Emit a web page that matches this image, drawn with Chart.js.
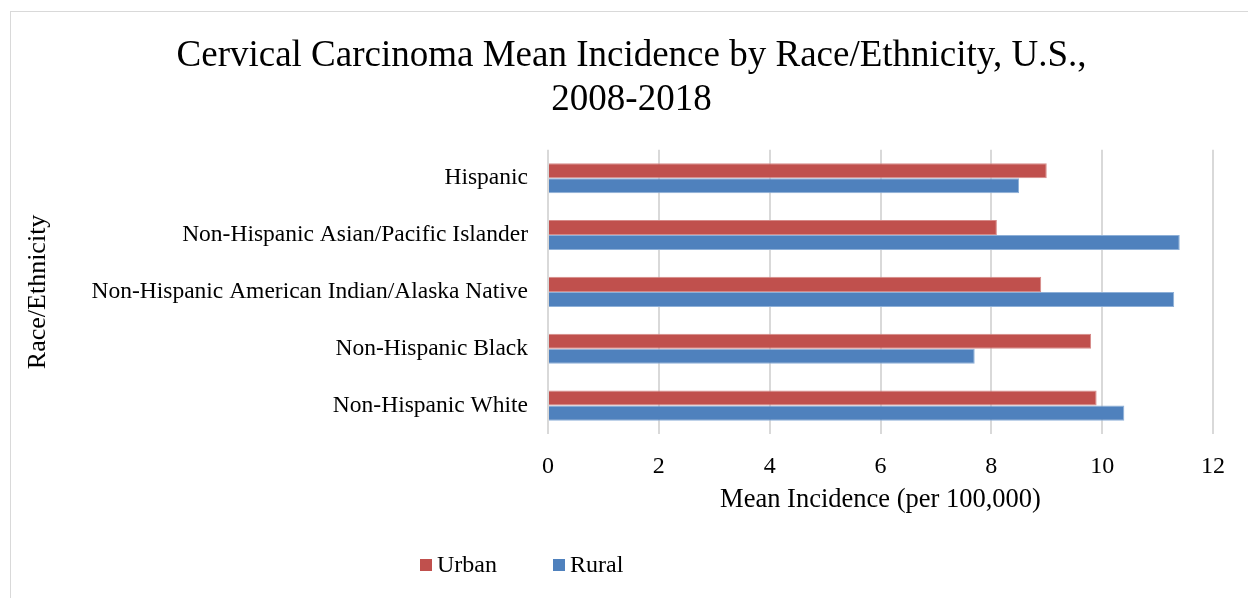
<!DOCTYPE html>
<html>
<head>
<meta charset="utf-8">
<script src="https://cdn.jsdelivr.net/npm/chart.js@4"></script>
<style>
  body { margin: 0; background: #fff; }
</style>
</head>
<body>
<canvas id="incidenceChart" width="1248" height="598"></canvas>
<script>
const groups = [
  'Hispanic',
  'Non-Hispanic Asian/Pacific Islander',
  'Non-Hispanic American Indian/Alaska Native',
  'Non-Hispanic Black',
  'Non-Hispanic White'
];
const urban = [9.0, 8.1, 8.9, 9.8, 9.9];
const rural = [8.5, 11.4, 11.3, 7.7, 10.4];
const xTicks = [0, 2, 4, 6, 8, 10, 12];

const serif = "'Liberation Serif', 'Times New Roman', serif";

// outer frame + hand drawn legend (sits left of centre like the office export)
const framePlugin = {
  id: 'frame',
  afterLayout(chart) {
    // title is centred on the whole frame, not the padded box
    chart.titleBlock.left += 18;
    chart.titleBlock.right += 18;
  },
  beforeDraw(chart) {
    const ctx = chart.ctx;
    ctx.save();
    ctx.strokeStyle = '#d9d9d9';
    ctx.lineWidth = 1;
    ctx.strokeRect(10.5, 11.5, 1400, 700);
    ctx.restore();
  },
  afterDraw(chart) {
    const ctx = chart.ctx;
    const spots = [420, 553];
    ctx.save();
    ctx.font = '24px ' + serif;
    ctx.textBaseline = 'alphabetic';
    chart.data.datasets.forEach((ds, i) => {
      ctx.fillStyle = ds.backgroundColor;
      ctx.fillRect(spots[i], 559, 12, 12);
      ctx.fillStyle = '#000';
      ctx.fillText(ds.label, spots[i] + 17, 572);
    });
    ctx.restore();
  }
};

const ctx = document.getElementById('incidenceChart').getContext('2d');
const chart = new Chart(ctx, {
  type: 'bar',
  data: {
    labels: groups,
    datasets: [{
      label: 'Urban',
      data: urban,
      backgroundColor: '#c0504d',
      borderColor: '#d68a88',
      borderWidth: 1
    }, {
      label: 'Rural',
      data: rural,
      backgroundColor: '#4f81bd',
      borderColor: '#8eb0d8',
      borderWidth: 1
    }]
  },
  options: {
    indexAxis: 'y',
    responsive: false,
    animation: false,
    categoryPercentage: 0.53,
    barPercentage: 1,
    layout: {
      padding: { left: 14, right: 35, top: 12, bottom: 82 }
    },
    plugins: {
      legend: { display: false },
      tooltip: { enabled: false },
      title: {
        display: true,
        text: ['Cervical Carcinoma Mean Incidence by Race/Ethnicity, U.S.,', '2008-2018'],
        color: '#000',
        font: { family: serif, size: 37, weight: 'normal', lineHeight: 1.2 },
        padding: { top: 22, bottom: 27 }
      }
    },
    scales: {
      x: {
        min: 0,
        max: 12,
        afterBuildTicks(scale) {
          scale.ticks = xTicks.map(v => ({ value: v }));
        },
        afterFit(scale) {
          scale.height = 82;
        },
        grid: { color: '#d9d9d9', lineWidth: 2, drawTicks: false },
        border: { display: false },
        ticks: {
          color: '#000',
          padding: 18,
          font: { family: serif, size: 24 }
        },
        title: {
          display: true,
          text: 'Mean Incidence (per 100,000)',
          color: '#000',
          font: { family: serif, size: 26.5 },
          padding: { top: 0, bottom: 0 }
        }
      },
      y: {
        afterFit(scale) {
          scale.width = 534;
        },
        grid: { display: false, drawTicks: false },
        border: { display: false },
        ticks: {
          color: '#000',
          padding: 20,
          font: { family: serif, size: 23.5 }
        },
        title: {
          display: true,
          text: 'Race/Ethnicity',
          color: '#000',
          font: { family: serif, size: 26 },
          padding: { top: 9 }
        }
      }
    }
  },
  plugins: [framePlugin]
});
</script>
</body>
</html>
